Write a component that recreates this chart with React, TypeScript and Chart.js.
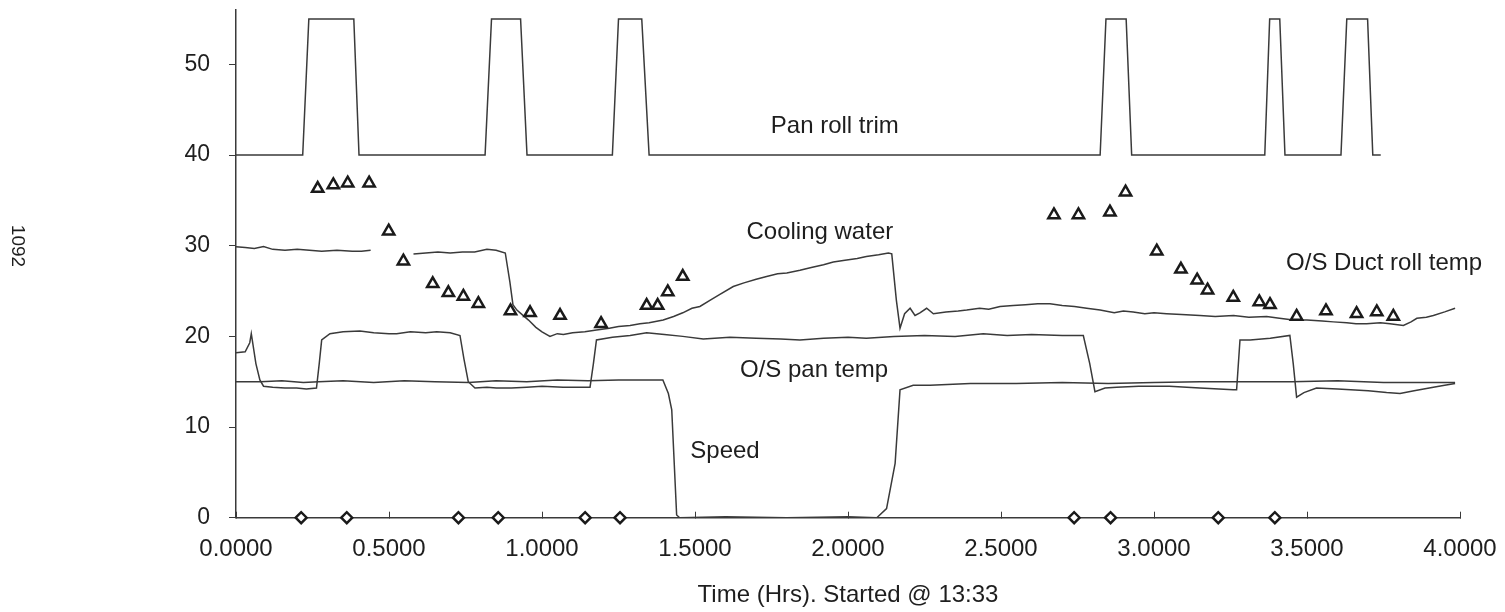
import React, { useEffect, useRef } from "react";
import { Chart, registerables } from "chart.js";

Chart.register(...registerables);

const FONT = "'Liberation Sans', Arial, Helvetica, sans-serif";
const INK = "#1e1e1e";
const LINE = "#3a3a3a";

// Axis ticks
const xTickValues = [0, 0.5, 1, 1.5, 2, 2.5, 3, 3.5, 4];
const yTickValues = [0, 10, 20, 30, 40, 50];

// Pan roll trim
const trimX = [0, 0.218, 0.238, 0.385, 0.402, 0.814, 0.835, 0.93, 0.951, 1.23, 1.25, 1.326, 1.35, 2.824, 2.843, 2.909, 2.927, 3.362, 3.378, 3.411, 3.428, 3.611, 3.63, 3.698, 3.715, 3.741];
const trimY = [40, 40, 55, 55, 40, 40, 55, 55, 40, 40, 55, 55, 40, 40, 55, 55, 40, 40, 55, 55, 40, 40, 55, 55, 40, 40];

// Cooling water (null = gap in record)
const coolX = [0, 0.03, 0.06, 0.09, 0.12, 0.16, 0.2, 0.24, 0.28, 0.33, 0.38, 0.41, 0.44, 0.5, 0.58, 0.62, 0.66, 0.7, 0.74, 0.78, 0.82, 0.85, 0.88, 0.895, 0.905, 0.918, 0.935, 0.956, 0.98, 1.0, 1.026, 1.05, 1.07, 1.1, 1.14, 1.178, 1.22, 1.25, 1.288, 1.32, 1.35, 1.396, 1.43, 1.46, 1.49, 1.516, 1.55, 1.58, 1.625, 1.66, 1.7, 1.734, 1.77, 1.8, 1.843, 1.88, 1.92, 1.952, 1.99, 2.03, 2.06, 2.1, 2.132, 2.143, 2.158, 2.17, 2.185, 2.203, 2.219, 2.235, 2.257, 2.279, 2.32, 2.36, 2.388, 2.43, 2.46, 2.497, 2.54, 2.58, 2.62, 2.66, 2.7, 2.74, 2.78, 2.824, 2.87, 2.9, 2.932, 2.97, 3.0, 3.041, 3.09, 3.15, 3.2, 3.26, 3.31, 3.368, 3.41, 3.455, 3.5, 3.55, 3.586, 3.63, 3.66, 3.695, 3.74, 3.771, 3.815, 3.84, 3.859, 3.89, 3.913, 3.95, 3.984];
const coolY = [29.9, 29.8, 29.7, 29.9, 29.6, 29.5, 29.6, 29.5, 29.4, 29.5, 29.4, 29.4, 29.5, null, 29.1, 29.2, 29.3, 29.2, 29.3, 29.3, 29.6, 29.5, 29.2, 26.0, 23.5, 22.9, 22.4, 21.8, 21.0, 20.5, 20.0, 20.3, 20.2, 20.4, 20.5, 20.7, 20.9, 21.1, 21.2, 21.4, 21.5, 21.8, 22.2, 22.6, 23.1, 23.3, 24.0, 24.6, 25.5, 25.9, 26.3, 26.6, 26.9, 27.0, 27.3, 27.6, 27.9, 28.2, 28.4, 28.6, 28.8, 29.0, 29.2, 29.1, 24.0, 20.9, 22.5, 23.1, 22.3, 22.6, 23.1, 22.5, 22.7, 22.8, 22.9, 23.1, 23.0, 23.3, 23.4, 23.5, 23.6, 23.6, 23.4, 23.3, 23.1, 22.9, 22.6, 22.8, 22.7, 22.5, 22.6, 22.5, 22.4, 22.3, 22.2, 22.3, 22.1, 22.2, 22.0, 21.8, 21.8, 21.7, 21.6, 21.5, 21.4, 21.4, 21.5, 21.4, 21.2, 21.6, 22.0, 22.1, 22.3, 22.7, 23.1];

// O/S pan temp
const panX = [0, 0.03, 0.045, 0.05, 0.065, 0.078, 0.09, 0.12, 0.16, 0.198, 0.23, 0.263, 0.272, 0.28, 0.307, 0.35, 0.405, 0.45, 0.5, 0.525, 0.57, 0.62, 0.656, 0.7, 0.732, 0.745, 0.759, 0.781, 0.82, 0.851, 0.9, 0.95, 1.0, 1.069, 1.12, 1.157, 1.168, 1.178, 1.23, 1.288, 1.342, 1.4, 1.46, 1.527, 1.614, 1.7, 1.78, 1.843, 1.92, 2.0, 2.06, 2.15, 2.25, 2.35, 2.442, 2.52, 2.6, 2.7, 2.769, 2.79, 2.807, 2.84, 2.878, 2.95, 3.05, 3.15, 3.259, 3.27, 3.281, 3.314, 3.38, 3.444, 3.455, 3.466, 3.49, 3.531, 3.6, 3.7, 3.76, 3.804, 3.85, 3.913, 3.95, 3.984];
const panY = [18.2, 18.3, 19.3, 20.3, 17.0, 15.2, 14.5, 14.4, 14.3, 14.3, 14.2, 14.3, 17.0, 19.6, 20.3, 20.5, 20.6, 20.4, 20.3, 20.3, 20.5, 20.4, 20.5, 20.4, 20.1, 17.5, 15.0, 14.3, 14.4, 14.3, 14.3, 14.4, 14.5, 14.4, 14.4, 14.4, 17.0, 19.6, 19.9, 20.1, 20.4, 20.2, 20.0, 19.7, 19.9, 19.8, 19.7, 19.6, 19.8, 19.9, 19.8, 20.0, 20.1, 20.0, 20.3, 20.1, 20.2, 20.1, 20.1, 17.0, 13.9, 14.3, 14.4, 14.5, 14.5, 14.3, 14.1, 14.1, 19.6, 19.6, 19.8, 20.1, 17.0, 13.3, 13.8, 14.3, 14.2, 14.0, 13.8, 13.7, 14.0, 14.4, 14.6, 14.8];

// Speed
const speedX = [0, 0.08, 0.15, 0.22, 0.27, 0.35, 0.45, 0.55, 0.65, 0.76, 0.85, 0.95, 1.05, 1.15, 1.25, 1.35, 1.395, 1.413, 1.424, 1.44, 1.45, 1.6, 1.8, 2.0, 2.094, 2.126, 2.154, 2.17, 2.213, 2.268, 2.4, 2.55, 2.7, 2.85, 3.0, 3.15, 3.3, 3.45, 3.6, 3.75, 3.9, 3.984];
const speedY = [15.0, 15.0, 15.1, 14.9, 15.0, 15.1, 14.9, 15.1, 15.0, 14.9, 15.1, 15.0, 15.2, 15.1, 15.2, 15.2, 15.2, 13.7, 11.9, 0.3, 0, 0.1, 0, 0.1, 0, 1.0, 6.0, 14.1, 14.6, 14.6, 14.8, 14.8, 14.9, 14.8, 14.9, 15.0, 15.0, 15.0, 15.1, 14.9, 14.9, 14.9];

// O/S Duct roll temp (spot readings)
const ductX = [0.267, 0.318, 0.365, 0.435, 0.499, 0.547, 0.643, 0.694, 0.743, 0.792, 0.897, 0.961, 1.059, 1.193, 1.342, 1.378, 1.411, 1.46, 2.673, 2.753, 2.856, 2.907, 3.009, 3.088, 3.141, 3.175, 3.259, 3.344, 3.379, 3.466, 3.562, 3.662, 3.728, 3.782];
const ductY = [36.3, 36.7, 36.9, 36.9, 31.6, 28.3, 25.8, 24.8, 24.4, 23.6, 22.8, 22.6, 22.3, 21.4, 23.4, 23.4, 24.9, 26.6, 33.4, 33.4, 33.7, 35.9, 29.4, 27.4, 26.2, 25.1, 24.3, 23.8, 23.5, 22.2, 22.8, 22.5, 22.7, 22.2];

// Event markers on the time axis
const eventX = [0.213, 0.362, 0.727, 0.857, 1.141, 1.255, 2.739, 2.858, 3.21, 3.395];
const eventY = [0, 0, 0, 0, 0, 0, 0, 0, 0, 0];

// In-chart series labels (data coordinates)
const labelText = ["Pan roll trim", "Cooling water", "O/S Duct roll temp", "O/S pan temp", "Speed"];
const labelX = [1.957, 1.908, 3.752, 1.889, 1.598];
const labelY = [43.2, 31.5, 28.1, 16.3, 7.3];

const yTitle = "1092";
const xTitle = "Time (Hrs). Started @ 13:33";

const pts = (xs: number[], ys: (number | null)[]) => xs.map((x, i) => ({ x, y: ys[i] }));

const textPlugin = {
  id: "seriesText",
  afterDatasetsDraw(chart: any) {
    const { ctx, scales } = chart;
    ctx.save();
    ctx.fillStyle = INK;
    ctx.textAlign = "center";
    ctx.textBaseline = "middle";
    ctx.font = `24px ${FONT}`;
    labelText.forEach((t, i) => {
      ctx.fillText(t, scales.x.getPixelForValue(labelX[i]), scales.y.getPixelForValue(labelY[i]));
    });
    ctx.translate(17, 246);
    ctx.rotate(Math.PI / 2);
    ctx.font = `19px ${FONT}`;
    ctx.fillText(yTitle, 0, 0);
    ctx.restore();
  },
};

export default function App() {
  const ref = useRef<HTMLCanvasElement>(null);
  useEffect(() => {
    if (!ref.current) return;
    const lineDs = (data: any[]) => ({
      type: "line" as const,
      data,
      borderColor: LINE,
      borderWidth: 1.5,
      pointRadius: 0,
      tension: 0,
      fill: false,
      spanGaps: false,
    });
    const chart = new Chart(ref.current, {
      type: "line",
      data: {
        datasets: [
          {
            data: pts(eventX, eventY),
            showLine: false,
            clip: false,
            pointStyle: "rectRot",
            pointRadius: 5.5,
            pointBorderWidth: 2.4,
            pointBorderColor: "#1a1a1a",
            pointBackgroundColor: "#ffffff",
          },
          {
            data: pts(ductX, ductY),
            showLine: false,
            clip: false,
            pointStyle: "triangle",
            pointRadius: 6.5,
            pointBorderWidth: 2.5,
            pointBorderColor: "#1a1a1a",
            pointBackgroundColor: "#ffffff",
          },
          lineDs(pts(trimX, trimY)),
          lineDs(pts(coolX, coolY)),
          lineDs(pts(panX, panY)),
          lineDs(pts(speedX, speedY)),
        ] as any,
      },
      options: {
        responsive: false,
        animation: false,
        layout: { padding: { left: 0, right: 45, top: 10, bottom: 0 } },
        plugins: { legend: { display: false }, tooltip: { enabled: false } },
        scales: {
          x: {
            type: "linear",
            min: 0,
            max: 4,
            afterBuildTicks: (s: any) => {
              s.ticks = xTickValues.map((v) => ({ value: v }));
            },
            afterFit: (s: any) => {
              s.height = 94.3;
              s.paddingLeft = 0;
              s.paddingRight = 0;
            },
            grid: { drawOnChartArea: false, drawTicks: true, tickLength: -6, color: LINE, lineWidth: 1 },
            border: { display: true, color: LINE, width: 1.5 },
            ticks: {
              color: INK,
              font: { family: FONT, size: 24 },
              padding: 23.5,
              autoSkip: false,
              maxRotation: 0,
              callback: (v: any) => Number(v).toFixed(4),
            },
            title: {
              display: true,
              text: xTitle,
              color: INK,
              font: { family: FONT, size: 24, lineHeight: 1 },
              padding: { top: 0, bottom: 5 },
            },
          },
          y: {
            type: "linear",
            min: 0,
            max: 56,
            afterBuildTicks: (s: any) => {
              s.ticks = yTickValues.map((v) => ({ value: v }));
            },
            afterFit: (s: any) => {
              s.width = 236;
              s.paddingTop = 0;
              s.paddingBottom = 0;
            },
            grid: { drawOnChartArea: false, drawTicks: true, tickLength: 7, color: LINE, lineWidth: 1 },
            border: { display: true, color: LINE, width: 1.5 },
            ticks: {
              color: INK,
              font: { family: FONT, size: 23 },
              padding: 19,
              callback: (v: any) => String(v),
            },
          },
        },
      },
      plugins: [textPlugin],
    });
    return () => chart.destroy();
  }, []);

  return (
    <div style={{ position: "fixed", left: 0, top: 0, width: 1505, height: 612, background: "#fff" }}>
      <canvas ref={ref} width={1505} height={612} style={{ display: "block" }} />
    </div>
  );
}
